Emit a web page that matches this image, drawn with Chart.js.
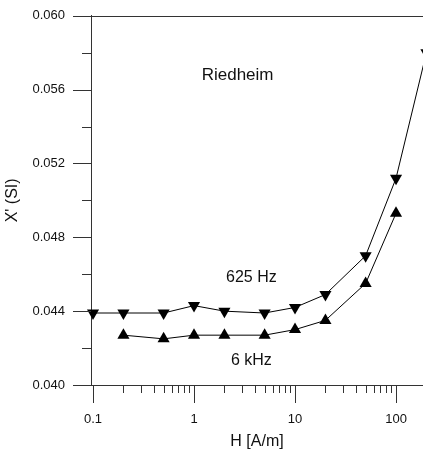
<!DOCTYPE html>
<html>
<head>
<meta charset="utf-8">
<script src="https://cdn.jsdelivr.net/npm/chart.js@4.4.1/dist/chart.umd.min.js"></script>
<style>
    html, body { margin: 0; padding: 0; background: #fff; }
    canvas { display: block; }
</style>
</head>
<body>
<canvas id="chart" width="423" height="451"></canvas>
<script>
/* -------------------- DATA -------------------- */
const FIELD_625HZ = [0.1, 0.2, 0.5, 1, 2, 5, 10, 20, 50, 100, 200];
const CHI_625HZ   = [0.0439, 0.0439, 0.0439, 0.0443, 0.0440, 0.0439, 0.0442, 0.0449, 0.0470, 0.0512, 0.0580];
const FIELD_6KHZ  = [0.2, 0.5, 1, 2, 5, 10, 20, 50, 100];
const CHI_6KHZ    = [0.0427, 0.0425, 0.0427, 0.0427, 0.0427, 0.0430, 0.0435, 0.0455, 0.0493];

const X_TICKS = [0.1, 0.2, 0.3, 0.4, 0.5, 0.6, 0.7, 0.8, 0.9,
                 1, 2, 3, 4, 5, 6, 7, 8, 9,
                 10, 20, 30, 40, 50, 60, 70, 80, 90, 100];
const X_LABELS = ["0.1", "1", "10", "100"];
const Y_TICKS = [0.040, 0.042, 0.044, 0.046, 0.048, 0.050, 0.052, 0.054, 0.056, 0.058, 0.060];
const Y_LABELS = ["0.040", "0.044", "0.048", "0.052", "0.056", "0.060"];

// text labels placed in data coordinates
const NOTES = [
    { text: "Riedheim", x: 2.7, y: 0.0568, size: 17 },
    { text: "625 Hz",   x: 3.7, y: 0.0458, size: 16 },
    { text: "6 kHz",    x: 3.7, y: 0.0413, size: 16 }
];

const FONT = "Arial, 'Liberation Sans', sans-serif";
const AXIS_COLOR = "#333";

const toPoints = (xs, ys) => xs.map((x, i) => ({ x: x, y: ys[i] }));
const fmtX = v => X_LABELS.find(l => Math.abs(Number(l) - v) < 1e-9) || "";
const fmtY = v => Y_LABELS.find(l => Math.abs(Number(l) - v) < 1e-9) || "";

/* -------------------- TICKS, FRAME, NOTES -------------------- */
const axisDecor = {
    id: "axisDecor",
    afterDraw(chart) {
        const { ctx, chartArea: a, scales: { x, y } } = chart;
        ctx.save();
        ctx.strokeStyle = AXIS_COLOR;
        ctx.lineWidth = 1;
        ctx.beginPath();
        // top frame line
        ctx.moveTo(a.left, Math.round(a.top) + 0.5);
        ctx.lineTo(chart.width, Math.round(a.top) + 0.5);
        // y ticks (outside, left)
        Y_TICKS.forEach(v => {
            const py = Math.round(y.getPixelForValue(v)) + 0.5;
            const len = fmtY(v) ? 18 : 9;
            ctx.moveTo(a.left - len, py);
            ctx.lineTo(a.left, py);
        });
        // x ticks (outside, below)
        X_TICKS.forEach(v => {
            const px = Math.round(x.getPixelForValue(v)) + 0.5;
            const len = fmtX(v) ? 18 : 8;
            ctx.moveTo(px, a.bottom);
            ctx.lineTo(px, a.bottom + len);
        });
        ctx.stroke();

        ctx.fillStyle = "#111";
        ctx.textAlign = "center";
        ctx.textBaseline = "middle";
        NOTES.forEach(n => {
            ctx.font = n.size + "px " + FONT;
            ctx.fillText(n.text, x.getPixelForValue(n.x), y.getPixelForValue(n.y));
        });
        ctx.restore();
    }
};

/* -------------------- CHART -------------------- */
const lineStyle = {
    borderColor: "#000",
    backgroundColor: "#000",
    borderWidth: 1,
    pointRadius: 7,
    pointHoverRadius: 7,
    pointBorderWidth: 0,
    tension: 0,
    clip: false
};

new Chart(document.getElementById("chart").getContext("2d"), {
    type: "line",
    data: {
        datasets: [
            Object.assign({ label: "625 Hz", data: toPoints(FIELD_625HZ, CHI_625HZ),
                pointStyle: "triangle", pointRotation: 180 }, lineStyle),
            Object.assign({ label: "6 kHz", data: toPoints(FIELD_6KHZ, CHI_6KHZ),
                pointStyle: "triangle", pointRotation: 0 }, lineStyle)
        ]
    },
    options: {
        responsive: false,
        animation: false,
        // no auto padding for point overflow: plot runs to the canvas edge
        layout: { autoPadding: false, padding: { top: 15, right: 0, bottom: 0, left: 0 } },
        plugins: { legend: { display: false }, tooltip: { enabled: false } },
        scales: {
            x: {
                type: "logarithmic",
                bounds: "data",
                min: 0.0955,
                max: 185,
                // unlabeled end ticks keep the plot area flush with the canvas edge
                afterBuildTicks: s => {
                    s.ticks = [s.min].concat(X_TICKS, [s.max]).map(v => ({ value: v }));
                },
                afterFit: s => { s.height = 66; },
                // label gap comes from tickLength (padding 0 adds no side padding)
                grid: { display: true, drawOnChartArea: false, drawTicks: true,
                        tickLength: 27, tickColor: "rgba(0,0,0,0)" },
                border: { display: true, color: AXIS_COLOR, width: 1 },
                ticks: {
                    autoSkip: false, maxRotation: 0, padding: 0,
                    color: "#111", font: { family: FONT, size: 13 },
                    callback: v => fmtX(v)
                },
                title: {
                    display: true, text: "H [A/m]", color: "#111",
                    font: { family: FONT, size: 16 }, padding: { top: 0, bottom: 0 }
                }
            },
            y: {
                type: "linear",
                min: 0.040,
                max: 0.060,
                afterBuildTicks: s => { s.ticks = Y_TICKS.map(v => ({ value: v })); },
                afterFit: s => { s.width = 91; },
                grid: { display: true, drawOnChartArea: false, drawTicks: true,
                        tickLength: 18, tickColor: "rgba(0,0,0,0)" },
                border: { display: true, color: AXIS_COLOR, width: 1 },
                ticks: {
                    autoSkip: false, padding: 8,
                    color: "#111", font: { family: FONT, size: 13 },
                    callback: v => fmtY(v)
                },
                title: {
                    display: true, text: "X' (SI)", color: "#111",
                    font: { family: FONT, size: 16 }, padding: { top: 3, bottom: 0 }
                }
            }
        }
    },
    plugins: [axisDecor]
});
</script>
</body>
</html>
